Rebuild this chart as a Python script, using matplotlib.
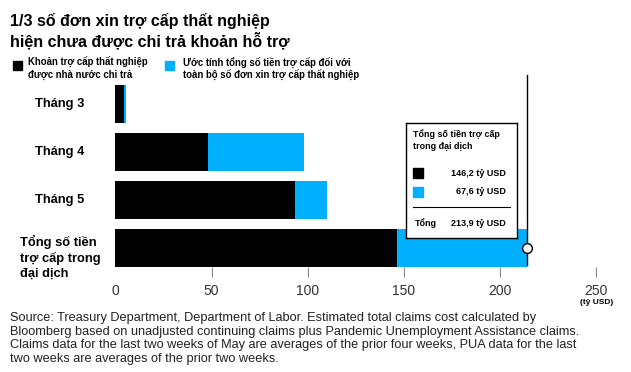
import matplotlib.pyplot as plt
from matplotlib.patches import Rectangle

plt.rcParams['font.family'] = ['Liberation Sans', 'DejaVu Sans']

# data
categories = ['Tháng 3', 'Tháng 4', 'Tháng 5', 'Tổng số tiền\ntrợ cấp trong\nđại dịch']
paid = [4.3, 48.4, 93.5, 146.2]
unpaid = [1.4, 49.5, 16.7, 67.6]
total = 213.9
xticks = [0, 50, 100, 150, 200, 250]

title = '1/3 số đơn xin trợ cấp thất nghiệp\nhiện chưa được chi trả khoản hỗ trợ'
legend_paid = 'Khoản trợ cấp thất nghiệp\nđược nhà nước chi trả'
legend_unpaid = 'Ước tính tổng số tiền trợ cấp đối với\ntoàn bộ số đơn xin trợ cấp thất nghiệp'
box_title = 'Tổng số tiền trợ cấp\ntrong đại dịch'
box_rows = ['146,2 tỷ USD', '67,6 tỷ USD']
box_total = '213,9 tỷ USD'
source = ('Source: Treasury Department, Department of Labor. Estimated total claims cost calculated by\n'
          'Bloomberg based on unadjusted continuing claims plus Pandemic Unemployment Assistance claims.\n'
          'Claims data for the last two weeks of May are averages of the prior four weeks, PUA data for the last\n'
          'two weeks are averages of the prior two weeks.')

BLACK = '#000000'
BLUE = '#00b0ff'

W, H = 631, 372
fig = plt.figure(figsize=(W / 100, H / 100), dpi=100)


def fx(px):
    return px / W


def fy(py):
    return 1 - py / H


# main axes: bars 48 px apart, axis bottom at 267 px
ax = fig.add_axes([fx(115.3), fy(267), 481 / W, 187 / H])
ypos = list(range(len(categories)))
ax.barh(ypos, paid, height=0.79, color=BLACK)
ax.barh(ypos, unpaid, left=paid, height=0.79, color=BLUE)
ax.set_xlim(0, 250)
ax.set_ylim(-0.5 + 187 / 48, -0.5)
for s in ax.spines.values():
    s.set_visible(False)
ax.set_yticks([])
ax.set_xticks(xticks)
ax.set_xticklabels([str(t) for t in xticks], fontsize=10, color='#333333')
ax.tick_params(axis='x', length=7, width=0.8, color='#888888', pad=5)
ax.xaxis.get_major_ticks()[0].tick1line.set_visible(False)

for y, lab in zip(ypos, categories):
    if '\n' in lab:
        ax.text(-0.115, y + 0.2, lab, transform=ax.get_yaxis_transform(), ha='center', va='center',
                multialignment='left', fontsize=9.3, fontweight='bold', linespacing=1.28)
    else:
        ax.text(-0.115, y, lab, transform=ax.get_yaxis_transform(), ha='center', va='center',
                fontsize=9.3, fontweight='bold')

ax.plot([total, total], [-0.6, 3.36], color=BLACK, lw=1, clip_on=False)
ax.plot([total], [3], marker='o', ms=7, mfc='white', mec=BLACK, mew=1, clip_on=False, zorder=5)

fig.text(fx(597), fy(303), '(tỷ USD)', ha='center', va='center', fontsize=6, fontweight='bold')

# inset box
bx = fig.add_axes([fx(406), fy(238), 111 / W, 115 / H])
bx.set_xlim(0, 111)
bx.set_ylim(115, 0)
bx.set_xticks([])
bx.set_yticks([])
for s in bx.spines.values():
    s.set_linewidth(1)
bx.text(7, 6, box_title, fontsize=6.4, fontweight='bold', va='top', ha='left', linespacing=1.45)
for i, (c, t) in enumerate(zip([BLACK, BLUE], box_rows)):
    yc = 50 + i * 19
    bx.add_patch(Rectangle((7, yc - 5), 10, 10, color=c))
    bx.text(100, yc, t, fontsize=6.5, fontweight='bold', va='center', ha='right')
bx.plot([7, 104], [84, 84], color=BLACK, lw=0.8)
bx.text(9, 100, 'Tổng', fontsize=6.5, fontweight='bold', va='center', ha='left')
bx.text(100, 100, box_total, fontsize=6.5, fontweight='bold', va='center', ha='right')

# title and legend
fig.text(fx(10), fy(13), title, fontsize=11.5, fontweight='bold', va='top', ha='left', linespacing=1.2)
fig.patches.append(Rectangle((fx(13), fy(70)), 9 / W, 9 / H, color=BLACK, transform=fig.transFigure))
fig.text(fx(28), fy(57), legend_paid, fontsize=6.9, fontweight='bold', va='top', ha='left')
fig.patches.append(Rectangle((fx(165), fy(70)), 9 / W, 9 / H, color=BLUE, transform=fig.transFigure))
fig.text(fx(183), fy(57), legend_unpaid, fontsize=6.9, fontweight='bold', va='top', ha='left')

fig.text(fx(10), fy(312), source, fontsize=9.2, va='top', ha='left', color='#222222',
         linespacing=1.17)

fig.savefig('out.png', dpi=100)
